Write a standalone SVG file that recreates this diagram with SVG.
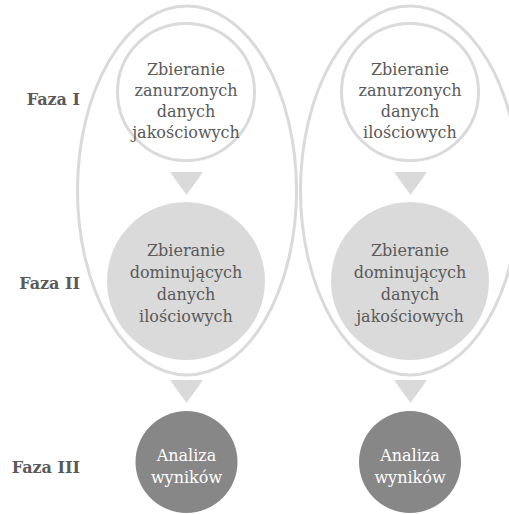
<svg xmlns="http://www.w3.org/2000/svg" width="509" height="514" viewBox="0 0 509 514">
<style>
.outer{fill:none;stroke:#dadada;stroke-width:3}
.c1{fill:#ffffff;stroke:#dadada;stroke-width:3}
.c2{fill:#dadada}
.c3{fill:#878787}
.tri{fill:#dadada}
.t{font-family:"DejaVu Serif","Liberation Serif",serif;font-size:16px;fill:#595959;text-anchor:middle}
.tw{font-family:"DejaVu Serif","Liberation Serif",serif;font-size:16px;fill:#ffffff;text-anchor:middle}
.lab{font-family:"DejaVu Serif","Liberation Serif",serif;font-size:16px;font-weight:bold;fill:#595959;text-anchor:end}
</style>
<rect width="509" height="514" fill="#ffffff"/>
<g id="outer-left"><ellipse class="outer" cx="187" cy="190.5" rx="109.5" ry="184.5"/></g>
<g id="outer-right"><ellipse class="outer" cx="410" cy="190.5" rx="109.5" ry="184.5"/></g>
<g id="labels">
<text class="lab" x="80" y="105">Faza I</text>
<text class="lab" x="80" y="289">Faza II</text>
<text class="lab" x="80" y="473">Faza III</text>
</g>
<g id="connectors">
<polygon class="tri" points="170,172 203,172 186.5,195"/>
<polygon class="tri" points="170,380 203,380 186.5,403"/>
<polygon class="tri" points="394,172 427,172 410.5,195"/>
<polygon class="tri" points="394,380 427,380 410.5,403"/>
</g>
<g id="left-phase1">
<circle class="c1" cx="186" cy="92" r="68.5"/>
<text class="t" x="186" y="75">Zbieranie</text>
<text class="t" x="186" y="96">zanurzonych</text>
<text class="t" x="186" y="117">danych</text>
<text class="t" x="186" y="138">jakościowych</text>
</g>
<g id="left-phase2">
<circle class="c2" cx="186" cy="281" r="79"/>
<text class="t" x="186" y="256">Zbieranie</text>
<text class="t" x="186" y="278">dominujących</text>
<text class="t" x="186" y="300">danych</text>
<text class="t" x="186" y="322">ilościowych</text>
</g>
<g id="left-phase3">
<circle class="c3" cx="186.5" cy="462" r="51"/>
<text class="tw" x="186.5" y="461">Analiza</text>
<text class="tw" x="186.5" y="483">wyników</text>
</g>
<g id="right-phase1">
<circle class="c1" cx="410" cy="92" r="68.5"/>
<text class="t" x="410" y="75">Zbieranie</text>
<text class="t" x="410" y="96">zanurzonych</text>
<text class="t" x="410" y="117">danych</text>
<text class="t" x="410" y="138">ilościowych</text>
</g>
<g id="right-phase2">
<circle class="c2" cx="410" cy="281" r="79"/>
<text class="t" x="410" y="256">Zbieranie</text>
<text class="t" x="410" y="278">dominujących</text>
<text class="t" x="410" y="300">danych</text>
<text class="t" x="410" y="322">jakościowych</text>
</g>
<g id="right-phase3">
<circle class="c3" cx="410" cy="462" r="51"/>
<text class="tw" x="410" y="461">Analiza</text>
<text class="tw" x="410" y="483">wyników</text>
</g>
</svg>
